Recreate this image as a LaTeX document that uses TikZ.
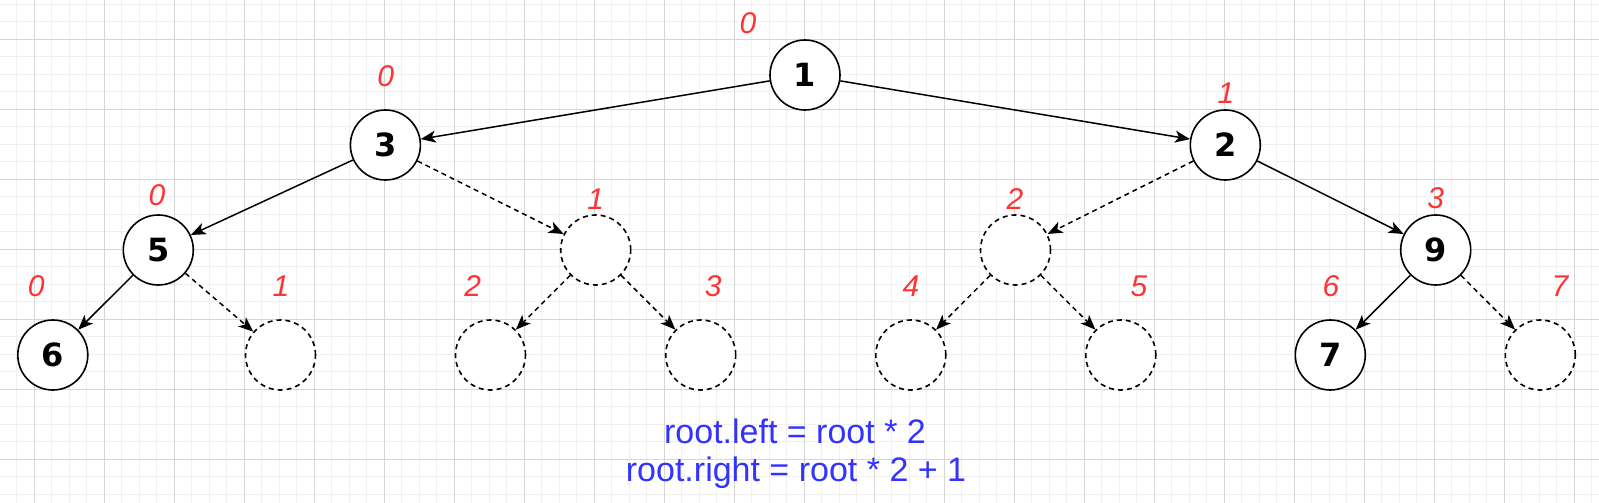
\documentclass[tikz,border=0pt]{standalone}
\usepackage{fontspec}
\usetikzlibrary{arrows.meta}
\newfontfamily\numfont{DejaVu Sans}
\newfontfamily\labfont{Liberation Sans}
\definecolor{gridmajor}{HTML}{D6D6D6}
\definecolor{gridminor}{HTML}{F0F0F0}
\definecolor{labred}{HTML}{FF3333}
\definecolor{txtblue}{HTML}{3333FF}
\begin{document}
\begin{tikzpicture}[x=1pt,y=-1pt,
  treenode/.style={circle, draw=black, fill=white, line width=1.6pt, minimum size=70pt, inner sep=0pt,
    font=\numfont\bfseries\fontsize{32}{38}\selectfont},
  emptynode/.style={treenode, dash pattern=on 5pt off 4pt},
  edge/.style={line width=1.5pt, -{Stealth[length=15pt,width=12pt,inset=4pt]}},
  dashededge/.style={edge, dash pattern=on 5pt off 4pt},
  idx/.style={text=labred, inner sep=0pt, font=\labfont\itshape\fontsize{30}{36}\selectfont},
  formula/.style={text=txtblue, inner sep=0pt, anchor=base, font=\labfont\fontsize{34}{38}\selectfont},
  minorline/.style={draw=gridminor, line width=1pt},
  majorline/.style={draw=gridmajor, line width=1pt}]
\useasboundingbox (0,0) rectangle (1599,503);
\fill[white] (0,0) rectangle (1599,503);
% grid
\foreach \i in {-1,...,89} {\draw[minorline] ({34.3+17.5*\i},0) -- ({34.3+17.5*\i},503);}
\foreach \i in {-2,...,26} {\draw[minorline] (0,{39.3+17.5*\i}) -- (1599,{39.3+17.5*\i});}
\foreach \i in {0,...,22} {\draw[majorline] ({34.3+70*\i},0) -- ({34.3+70*\i},503);}
\foreach \i in {0,...,6} {\draw[majorline] (0,{39.3+70*\i}) -- (1599,{39.3+70*\i});}
% nodes
\node[treenode] (n1) at (805,75) {1};
\node[treenode] (n3) at (385.4,145) {3};
\node[treenode] (n2) at (1225.3,145) {2};
\node[treenode] (n5) at (158.3,250) {5};
\node[emptynode] (d1) at (595.7,250) {};
\node[emptynode] (d2) at (1015.5,250) {};
\node[treenode] (n9) at (1435.7,250) {9};
\node[treenode] (n6) at (52.8,355) {6};
\node[emptynode] (e1) at (280.5,355) {};
\node[emptynode] (e2) at (490.5,355) {};
\node[emptynode] (e3) at (700.7,355) {};
\node[emptynode] (e4) at (910.8,355) {};
\node[emptynode] (e5) at (1120.8,355) {};
\node[treenode] (n7) at (1330.3,355) {7};
\node[emptynode] (e7) at (1540.3,355) {};
% edges
\draw[edge] (n1) -- (n3);
\draw[edge] (n1) -- (n2);
\draw[edge] (n3) -- (n5);
\draw[dashededge] (n3) -- (d1);
\draw[dashededge] (n2) -- (d2);
\draw[edge] (n2) -- (n9);
\draw[edge] (n5) -- (n6);
\draw[dashededge] (n5) -- (e1);
\draw[dashededge] (d1) -- (e2);
\draw[dashededge] (d1) -- (e3);
\draw[dashededge] (d2) -- (e4);
\draw[dashededge] (d2) -- (e5);
\draw[edge] (n9) -- (n7);
\draw[dashededge] (n9) -- (e7);
% index labels
\node[idx] (l0) at (748,23) {0};
\node[idx] (l3) at (385.7,76) {0};
\node[idx] (l2) at (1226,93) {1};
\node[idx] (l5) at (157,195) {0};
\node[idx] (ld1) at (595.7,199) {1};
\node[idx] (ld2) at (1015,199) {2};
\node[idx] (l9) at (1435.7,198) {3};
\node[idx] (m0) at (36.3,286) {0};
\node[idx] (m1) at (281,286) {1};
\node[idx] (m2) at (472.7,286) {2};
\node[idx] (m3) at (713.3,286) {3};
\node[idx] (m4) at (911,286) {4};
\node[idx] (m5) at (1139,286) {5};
\node[idx] (m6) at (1331,286) {6};
\node[idx] (m7) at (1560,286) {7};
% formula
\node[formula] (f1) at (795,443) {root.left = root * 2};
\node[formula] (f2) at (796,481) {root.right = root * 2 + 1};
\end{tikzpicture}
\end{document}
